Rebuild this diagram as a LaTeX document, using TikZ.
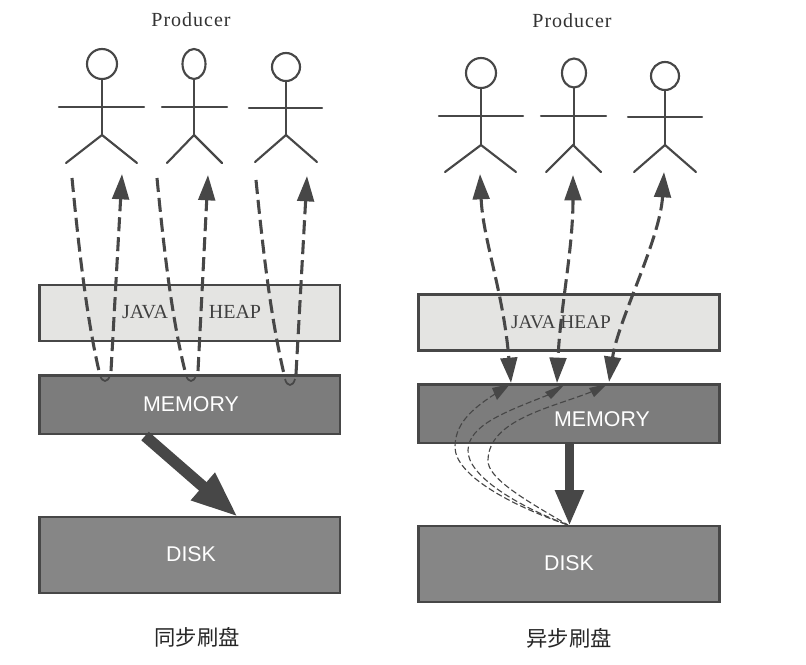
\documentclass[tikz,border=0pt]{standalone}
\usepackage{fontspec}
\setmainfont{Liberation Serif}
\setsansfont{Liberation Sans}
\newfontfamily\cjk{Noto Sans CJK SC}
\newfontfamily\spaced[LetterSpace=5]{Liberation Serif}
\usetikzlibrary{arrows.meta}
\definecolor{ink}{HTML}{474747}
\definecolor{heapfill}{HTML}{E4E4E2}
\definecolor{memfill}{HTML}{7C7C7C}
\definecolor{diskfill}{HTML}{868686}
\tikzset{
  x=0.75pt,y=-0.75pt,
  layer/.style={draw=ink,line width=2pt,rectangle,inner sep=0pt,minimum width=225.5pt},
  heapbox/.style={layer,fill=heapfill,minimum height=42pt},
  membox/.style={layer,fill=memfill,minimum height=44pt},
  diskbox/.style={layer,fill=diskfill,minimum height=57pt},
  whitelabel/.style={text=white,font=\sffamily\fontsize{16}{16}\selectfont},
  heaplabel/.style={text=black!75,font=\fontsize{15}{15}\selectfont},
  title/.style={text=black!80,font=\spaced\fontsize{15}{15}\selectfont},
  caption/.style={text=black!85,font=\cjk\fontsize{16}{16}\selectfont},
  flowline/.style={draw=ink,line width=2.3pt,dash pattern=on 10.5pt off 4.5pt},
  upflow/.style={flowline,-{Triangle[length=19pt,width=12.5pt]}},
  bothflow/.style={flowline,{Triangle[length=19pt,width=12.5pt]}-{Triangle[length=19pt,width=12.5pt]}},
  notch/.style={draw=ink,line width=1.3pt},
  thinflow/.style={draw=ink,line width=0.85pt,dash pattern=on 4.5pt off 2.2pt},
  smalltip/.style={fill=ink,draw=none},
  bigarrow/.style={draw=ink,line width=8.5pt,-{Triangle[length=35pt,width=25pt]}},
  vertarrow/.style={draw=ink,line width=7pt,-{Triangle[length=27pt,width=20pt]}},
  figline/.style={draw=ink,line width=1.6pt,line cap=round}
}
% name, head x, head y, radius x, radius y, arm y, arm left, arm right, hip y
\newcommand{\actor}[9]{%
  \coordinate (#1) at (#2,#3);
  \draw[figline] (#1) ellipse [x radius=#4*0.75pt,y radius=#5*0.75pt];
  \draw[figline] (#2,#3+#5) -- (#2,#9);
  \draw[figline] (#7,#6) -- (#8,#6);
}
\newcommand{\legs}[5]{% x, hip y, left, right, foot y
  \draw[figline] (#3,#5) -- (#1,#2) -- (#4,#5);
}
\newcommand{\notchat}[2]{%
  \draw[notch] (#1-5,#2-7) .. controls (#1-3,#2+1) and (#1+3,#2+1) .. (#1+5,#2-7);
}
\begin{document}
\begin{tikzpicture}
\useasboundingbox (0,0) rectangle (806,664);
\fill[white] (0,0) rectangle (806,664);

\node[title] (pl) at (191,20) {Producer};
\node[title] (pr) at (572,21) {Producer};

\actor{a1}{102}{64}{15}{15}{107}{59}{144}{135}
\legs{102}{135}{66}{137}{163}
\actor{a2}{194}{64}{11.5}{15}{107}{162}{227}{135}
\legs{194}{135}{167}{222}{163}
\actor{a3}{286}{67}{14}{14}{108}{249}{322}{135}
\legs{286}{135}{255}{317}{162}
\actor{b1}{481}{73}{15}{15}{116}{439}{523}{145}
\legs{481}{145}{445}{516}{172}
\actor{b2}{574}{73}{12}{14.5}{116}{541}{606}{145}
\legs{573}{145}{546}{601}{172}
\actor{b3}{665}{76}{14}{14}{117}{628}{702}{145}
\legs{665}{145}{634}{696}{172}

% left stack
\node[heapbox] (heapL) at (189.5,313) {};
\node[membox]  (memL)  at (189.5,404.5) {};
\node[diskbox] (diskL) at (189.5,555) {};
% right stack
\node[heapbox] (heapR) at (569,322.5) {};
\node[membox]  (memR)  at (569,413.5) {};
\node[diskbox] (diskR) at (569,564) {};

\node[heaplabel] (javaL) at (145,312) {JAVA};
\node[heaplabel] (heapLt) at (235,312) {HEAP};
\node[whitelabel] (memLt) at (191,404) {MEMORY};
\node[whitelabel] (diskLt) at (191,554) {DISK};
\node[heaplabel,font=\fontsize{14.5}{15}\selectfont] (javaR) at (561,322) {JAVA HEAP};
\node[whitelabel] (memRt) at (602,419) {MEMORY};
\node[whitelabel] (diskRt) at (569,563) {DISK};

\node[caption] (capL) at (197,637) {同步刷盘};
\node[caption] (capR) at (569,638) {异步刷盘};

% left flows
\coordinate (l1s) at (72,178);  \coordinate (l1e) at (99,371);
\coordinate (l1b) at (111,371); \coordinate (l1t) at (122,174);
\coordinate (l2s) at (157,178); \coordinate (l2e) at (185,371);
\coordinate (l2b) at (198,371); \coordinate (l2t) at (208,175);
\coordinate (l3s) at (256,180); \coordinate (l3e) at (284,374);
\coordinate (l3b) at (296,374); \coordinate (l3t) at (307,176);
\draw[flowline] (l1s) .. controls (78,240) and (86,315) .. (l1e);
\draw[upflow] (l1b) -- (l1t);
\draw[flowline] (l2s) .. controls (163,240) and (171,315) .. (l2e);
\draw[upflow] (l2b) -- (l2t);
\draw[flowline] (l3s) .. controls (262,240) and (270,315) .. (l3e);
\draw[upflow] (l3b) -- (l3t);
\notchat{105}{382}
\notchat{191}{382}
\notchat{290}{386}

\coordinate (bl1) at (145,436); \coordinate (bl2) at (238,517);
\draw[bigarrow] (bl1) -- (bl2);

% right flows
\coordinate (r1t) at (480,174); \coordinate (r1m) at (511,383);
\coordinate (r2t) at (573,175); \coordinate (r2m) at (557,383);
\coordinate (r3t) at (664,172); \coordinate (r3m) at (609,382);
\draw[bothflow] (r1t) .. controls (483,240) and (503,290) .. (r1m);
\draw[bothflow] (r2t) .. controls (573,250) and (560,310) .. (r2m);
\draw[bothflow] (r3t) .. controls (660,240) and (618,320) .. (r3m);

% thin dashed flush-back curves
\coordinate (d0) at (568,525);
\coordinate (c1) at (495,394);
\coordinate (c2) at (548,395);
\coordinate (c3) at (591,392);
\draw[thinflow] (c1) .. controls (470,410) and (455,425) .. (455,447)
   .. controls (455,475) and (510,505) .. (d0);
\draw[thinflow] (c2) .. controls (505,412) and (469,425) .. (468,450)
   .. controls (467,475) and (515,505) .. (d0);
\draw[thinflow] (c3) .. controls (550,408) and (489,420) .. (488,460)
   .. controls (487,478) and (525,500) .. (d0);
\fill[smalltip] (510,384) -- (492,388) -- (497,400) -- cycle;
\fill[smalltip] (565,384) -- (545,392) -- (551,399) -- cycle;
\fill[smalltip] (607,384) -- (589,388) -- (594,397) -- cycle;

\coordinate (vr1) at (569.5,443); \coordinate (vr2) at (569.5,526);
\draw[vertarrow] (vr1) -- (vr2);
\end{tikzpicture}
\end{document}
